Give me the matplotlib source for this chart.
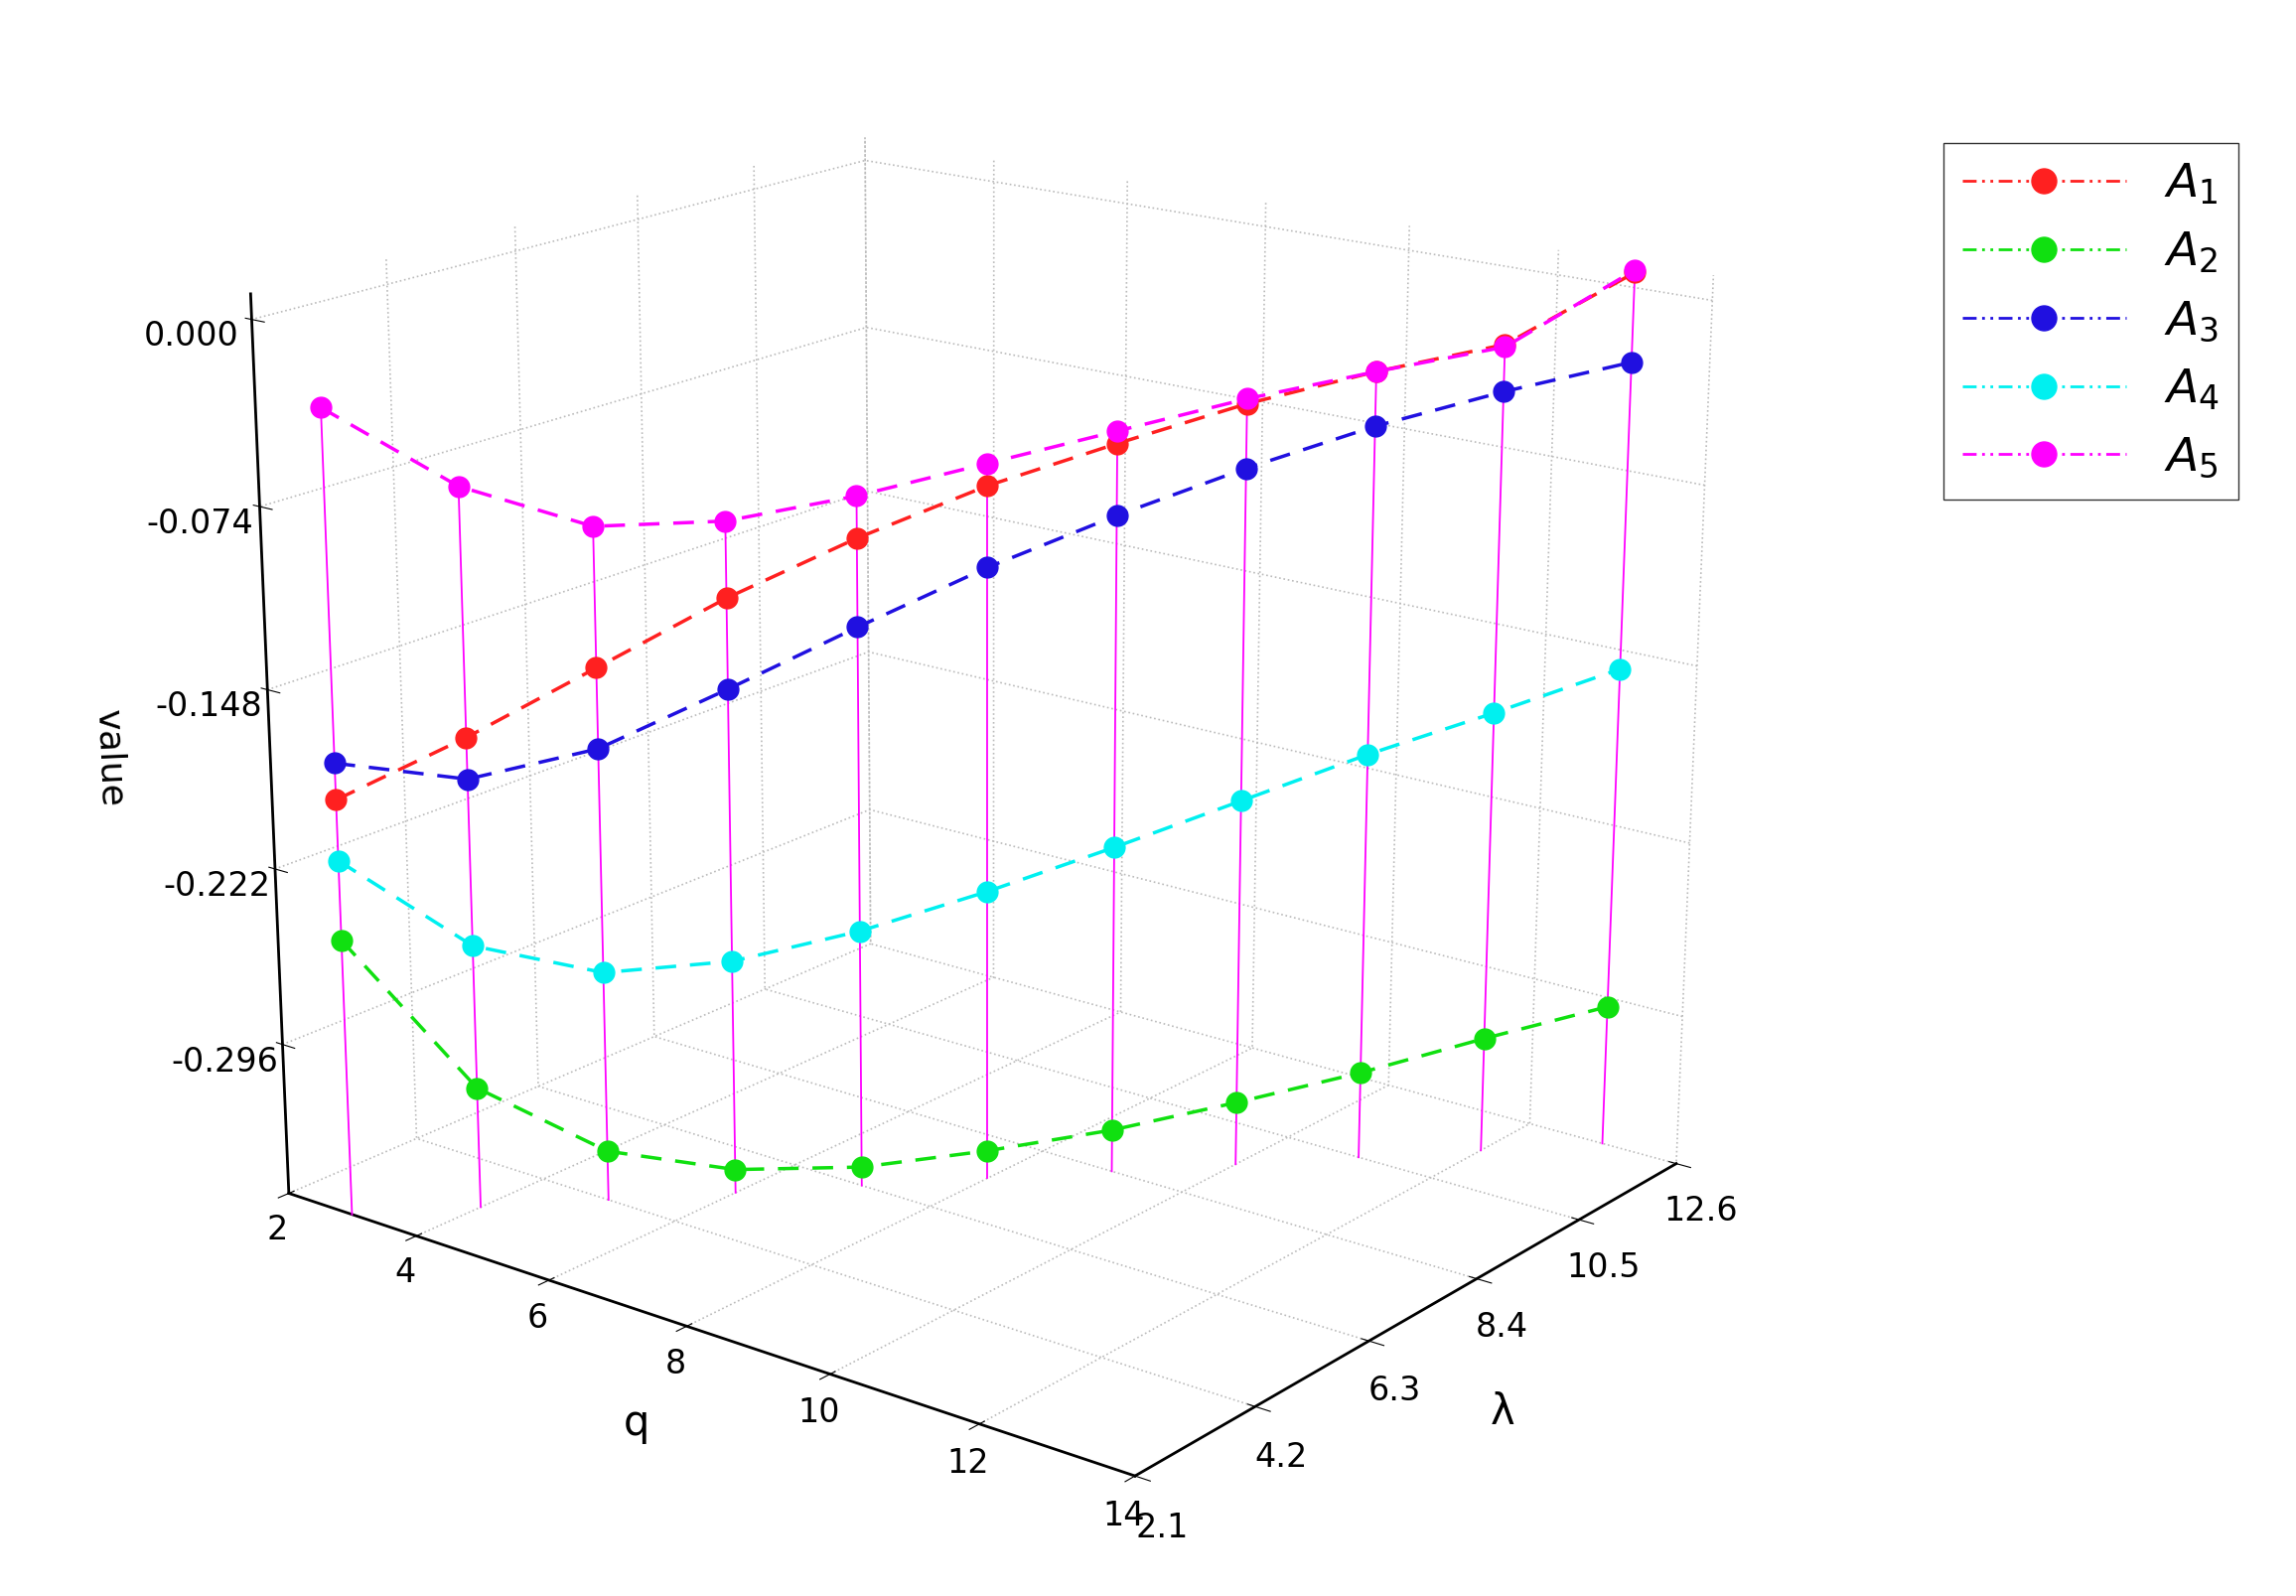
import numpy as np
import matplotlib.pyplot as plt
from matplotlib.lines import Line2D

q = [3, 4, 5, 6, 7, 8, 9, 10, 11, 12, 13]
lam = [2.1, 3.15, 4.2, 5.25, 6.3, 7.35, 8.4, 9.45, 10.5, 11.55, 12.6]
a1 = [-0.186, -0.163, -0.137, -0.111, -0.089, -0.070, -0.055, -0.041, -0.030, -0.021, 0.006]
a2 = [-0.244, -0.309, -0.339, -0.350, -0.352, -0.348, -0.342, -0.333, -0.323, -0.311, -0.300]
a3 = [-0.171, -0.180, -0.170, -0.148, -0.125, -0.103, -0.084, -0.067, -0.052, -0.040, -0.030]
a4 = [-0.211, -0.249, -0.263, -0.261, -0.251, -0.237, -0.221, -0.204, -0.187, -0.172, -0.156]
a5 = [-0.029, -0.062, -0.080, -0.080, -0.072, -0.061, -0.050, -0.039, -0.030, -0.022, 0.007]
names = ["$A_1$", "$A_2$", "$A_3$", "$A_4$", "$A_5$"]
colors = ["#ff2020", "#10e010", "#2010e0", "#00f0f0", "#ff00ff"]
zmin, zmax = -0.36, 0.01

fig = plt.figure(figsize=(23.12, 16.07), dpi=100)
ax = fig.add_axes([-0.04, -0.01, 0.92, 1.06], projection="3d")
ax.view_init(elev=18, azim=-52)
ax.set_proj_type("persp", focal_length=0.6)

for p in (ax.xaxis, ax.yaxis, ax.zaxis):
    p.set_pane_color((1, 1, 1, 0))
    p.pane.set_edgecolor("black")
    p._axinfo["grid"].update(color="#bbbbbb", linestyle=":", linewidth=1.2)
    p.line.set_color("black")
    p.line.set_linewidth(2)
# put the value axis on the left edge
ax.zaxis._axinfo["juggled"] = (1, 2, 0)

# stems
for xi, yi, zi in zip(q, lam, a5):
    ax.plot([xi, xi], [yi, yi], [zmin, zi], color="#ff00ff", lw=1.3)

for vals, c in zip([a1, a2, a3, a4, a5], colors):
    ax.plot(q, lam, vals, color=c, ls=(0, (6, 4)), lw=2.5, marker="o", ms=15, mec=c, mfc=c)

ax.set_xlim(2, 14)
ax.set_ylim(2.1, 12.6)
ax.set_zlim(zmin, zmax)
ax.set_xticks([2, 4, 6, 8, 10, 12, 14])
ax.set_yticks([2.1, 4.2, 6.3, 8.4, 10.5, 12.6])
ax.set_zticks([-0.296, -0.222, -0.148, -0.074, 0.0])
ax.set_zticklabels(["-0.296", "-0.222", "-0.148", "-0.074", "0.000"])
ax.tick_params(labelsize=24)
ax.tick_params(axis="z", pad=18)
ax.tick_params(axis="y", pad=10)
ax.set_xlabel("q", fontsize=30, labelpad=30)
ax.set_ylabel("λ", fontsize=30, labelpad=35)
ax.set_zlabel("value", fontsize=26, labelpad=50)
ax.set_box_aspect((1.2, 1.05, 1.05), zoom=0.98)

handles = [Line2D([0], [0], color=c, ls=(0, (5, 2, 1, 2, 1, 2)), lw=2, marker="o",
                  ms=18, mfc=c, mec=c) for c in colors]
fig.legend(handles, names, loc="upper right", bbox_to_anchor=(0.985, 0.925),
           fontsize=34, frameon=True, fancybox=False, edgecolor="black",
           handlelength=3.5, labelspacing=0.5)

fig.savefig("out.png", dpi=100)
